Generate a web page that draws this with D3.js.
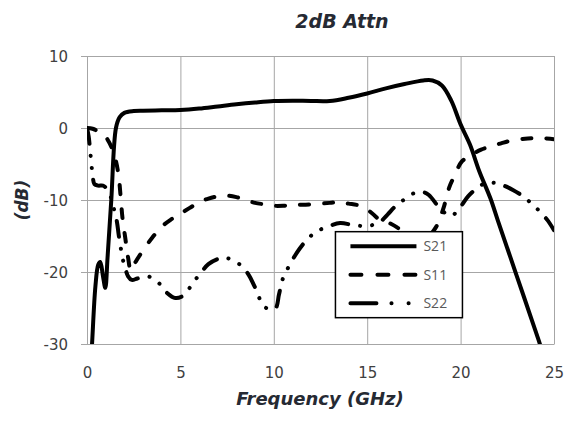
<!DOCTYPE html>
<html lang="en">
<head>
    <meta charset="UTF-8">
    <title>2dB Attn</title>
    <script type="text/javascript" src="https://d3js.org/d3.v7.min.js"></script>
    <style>
        body { margin: 0; background: #fff; }
        .grid line { stroke: #a6a6a6; stroke-width: 1; }
    </style>
</head>
<body>
<script type="text/javascript">

    // x ticks (GHz) and y ticks (dB)
    var xTicks = [0, 5, 10, 15, 20, 25];
    var yTicks = [-30, -20, -10, 0, 10];

    // S21: [GHz, dB]
    var s21 = [[0.2,-33],[0.27,-30],[0.45,-22],[0.6,-19],[0.71,-18.6],[0.85,-20.5],[0.98,-22.2],[1.1,-18],
        [1.3,-10],[1.55,0],[1.75,1.5],[2.0,2.1],[2.5,2.35],[3,2.4],[4,2.45],[5,2.5],[6,2.7],[7,3.0],
        [8,3.3],[9,3.55],[10,3.75],[11,3.8],[12,3.75],[13,3.75],[14,4.2],[15,4.8],[16,5.5],[17,6.1],
        [18,6.6],[18.5,6.6],[19,5.9],[19.5,3.8],[20,0.5],[20.5,-2.3],[21,-6],[21.6,-9.8],[22,-12.9],
        [23,-20.5],[24,-28.1],[24.5,-32]];

    // S11
    var s11 = [[0,0],[0.3,-0.1],[0.6,-0.5],[0.9,-1.0],[1.1,-1.6],[1.35,-2.9],[1.55,-4.6],[1.7,-6.8],
        [1.8,-9.5],[1.9,-12.5],[2.05,-15.3],[2.2,-18],[2.35,-19.8],[2.6,-18.6],[3.0,-17.0],[3.5,-15.2],
        [4.0,-13.7],[4.5,-12.7],[5.0,-11.9],[5.5,-11.1],[6.0,-10.3],[6.5,-9.8],[7.0,-9.5],[7.5,-9.4],
        [8.0,-9.6],[8.5,-10.0],[9.0,-10.4],[9.5,-10.6],[10,-10.8],[10.5,-10.8],[11,-10.7],[12,-10.6],
        [13,-10.4],[13.5,-10.3],[14,-10.5],[14.6,-10.8],[15.15,-11.6],[15.6,-12.6],[16.1,-13.1],
        [16.6,-13.8],[17.2,-15.0],[17.8,-15.6],[18.3,-15.0],[18.7,-13.7],[18.9,-12.5],[19.1,-11],
        [19.4,-8.2],[19.7,-6.5],[20.05,-4.7],[20.6,-3.7],[21.1,-3.0],[21.7,-2.5],[22.2,-2.1],
        [22.8,-1.7],[23.6,-1.45],[24.2,-1.4],[25,-1.55]];

    // S22
    var s22 = [[0,0],[0.09,-1.2],[0.2,-4],[0.3,-6.5],[0.4,-7.8],[0.6,-8.0],[0.85,-8.0],[1.05,-8.4],
        [1.25,-9.4],[1.45,-11.3],[1.6,-13],[1.7,-14.9],[1.83,-17],[1.95,-18.6],[2.05,-19.5],[2.2,-20.6],
        [2.4,-21.1],[2.7,-20.9],[3.26,-20.6],[3.83,-21.5],[4.2,-22.7],[4.73,-23.6],[5.2,-23.2],
        [5.67,-21.5],[6.1,-20.1],[6.5,-18.9],[7.0,-18.2],[7.3,-18.0],[7.66,-18.2],[8.25,-19.1],
        [8.68,-20.5],[8.97,-22],[9.53,-24.9],[10.07,-25.1],[10.28,-23.1],[10.46,-21.1],[11.05,-18.1],
        [11.4,-16.7],[11.85,-15.3],[12.35,-14.3],[13.0,-13.6],[13.55,-13.2],[14.3,-13.5],[15.06,-13.6],
        [15.7,-13],[16.1,-12],[16.5,-10.9],[17.0,-9.9],[17.55,-9.0],[18.0,-8.9],[18.3,-9.3],
        [18.98,-11.4],[19.5,-12.2],[20.0,-10.9],[20.4,-9.5],[20.9,-8.3],[21.3,-7.7],[21.7,-7.6],
        [22.2,-7.9],[22.8,-8.6],[23.35,-9.5],[23.8,-10.5],[24.24,-11.6],[24.65,-12.8],[25,-14.2]];

    var seriesNames = ["S21", "S11", "S22"];

    const width = 568, height = 423;
    const margin = { top: 56, right: 14, bottom: 79, left: 87 },
        innerWidth = width - margin.left - margin.right,
        innerHeight = height - margin.top - margin.bottom;

    var svg = d3.select("body").append("svg")
        .attr("width", width)
        .attr("height", height);

    var xScale = d3.scaleLinear().domain([0, 25]).range([0, innerWidth]);
    var yScale = d3.scaleLinear().domain([-30, 10]).range([innerHeight, 0]);

    var g = svg.append("g").attr("transform", "translate(" + margin.left + "," + margin.top + ")");

    // grid (no labels, those come from the real axes below)
    var xGrid = d3.axisBottom(xScale).tickValues(xTicks).tickSize(-innerHeight).tickFormat("");
    var yGrid = d3.axisLeft(yScale).tickValues(yTicks).tickSize(-innerWidth).tickFormat("");
    g.append("g").attr("class", "grid").attr("transform", "translate(0," + innerHeight + ")").call(xGrid)
        .call(s => s.select(".domain").remove())
        .call(s => s.selectAll("text").remove());
    g.append("g").attr("class", "grid").call(yGrid)
        .call(s => s.select(".domain").remove())
        .call(s => s.selectAll("text").remove());

    // tick label styling, put straight on the text nodes
    var tickStyle = function (sel) {
        sel.attr("font-family", "DejaVu Sans, sans-serif")
            .attr("font-size", 15)
            .attr("fill", "#404040");
    };
    // plain hyphen for negatives, like the original
    var plain = d => String(d);

    var xAxis = d3.axisBottom(xScale).tickValues(xTicks).tickSize(0).tickFormat(plain);
    var yAxis = d3.axisLeft(yScale).tickValues(yTicks).tickSize(6).tickPadding(13).tickFormat(plain);
    g.append("g").attr("transform", "translate(0," + innerHeight + ")").call(xAxis)
        .attr("font-size", 15).attr("font-family", "DejaVu Sans, sans-serif")
        .call(s => s.select(".domain").attr("stroke", "#a6a6a6"))
        .call(s => s.selectAll(".tick text").attr("dy", null).attr("y", 34).call(tickStyle));
    g.append("g").call(yAxis)
        .attr("font-size", 15).attr("font-family", "DejaVu Sans, sans-serif")
        .call(s => s.select(".domain").attr("stroke", "#a6a6a6"))
        .call(s => s.selectAll(".tick line").attr("stroke", "#a6a6a6"))
        .call(s => s.selectAll(".tick text").attr("dy", null).attr("y", 5).call(tickStyle));

    // clip curves to the plot area
    svg.append("defs").append("clipPath").attr("id", "plotclip")
        .append("rect").attr("width", innerWidth).attr("height", innerHeight);

    var line = d3.line()
        .x(d => xScale(d[0]))
        .y(d => yScale(d[1]))
        .curve(d3.curveCatmullRom.alpha(0.5));

    var dashes = { S21: null, S11: "9,15", S22: "16,12,0.1,12,0.1,12" };
    var data = { S21: s21, S11: s11, S22: s22 };

    var lines = g.append("g").attr("clip-path", "url(#plotclip)");
    ["S22", "S11", "S21"].forEach(function (k) {
        lines.append("path")
            .attr("d", line(data[k]))
            .attr("fill", "none")
            .attr("stroke", "#000")
            .attr("stroke-width", 4)
            .attr("stroke-linecap", k == "S21" ? "butt" : "round")
            .attr("stroke-dasharray", dashes[k]);
    });

    // legend
    var legDash = { S21: null, S11: "11,16", S22: "26,15,0.1,17,0.1,100" };
    var leg = g.append("g")
        .attr("transform", "translate(" + (xScale(13.3)) + "," + (yScale(-14.4)) + ")");
    leg.append("rect").attr("width", 127).attr("height", 86)
        .attr("fill", "#fff").attr("stroke", "#000").attr("stroke-width", 1.5);
    seriesNames.forEach(function (k, i) {
        var yy = 14.5 + i * 28.5;
        leg.append("line")
            .attr("x1", 15).attr("x2", 81).attr("y1", yy).attr("y2", yy)
            .attr("stroke", "#000").attr("stroke-width", 4)
            .attr("stroke-linecap", k == "S21" ? "butt" : "round")
            .attr("stroke-dasharray", legDash[k]);
        leg.append("text").attr("x", 88).attr("y", yy + 5)
            .attr("font-family", "Open Sans, sans-serif").attr("font-size", 14)
            .attr("fill", "#595959").text(k);
    });

    // titles
    var addTitle = function (txt, size) {
        return svg.append("text")
            .attr("font-family", "DejaVu Sans, sans-serif")
            .attr("font-weight", "bold").attr("font-style", "italic")
            .attr("font-size", size).attr("fill", "#262a33")
            .attr("text-anchor", "middle").text(txt);
    };
    addTitle("2dB Attn", 19).attr("x", 342).attr("y", 28);
    addTitle("Frequency (GHz)", 18).attr("x", 320).attr("y", 405);
    addTitle("(dB)", 17)
        .attr("transform", "translate(28," + (margin.top + innerHeight / 2) + ") rotate(-90)");
</script>
</body>
</html>
